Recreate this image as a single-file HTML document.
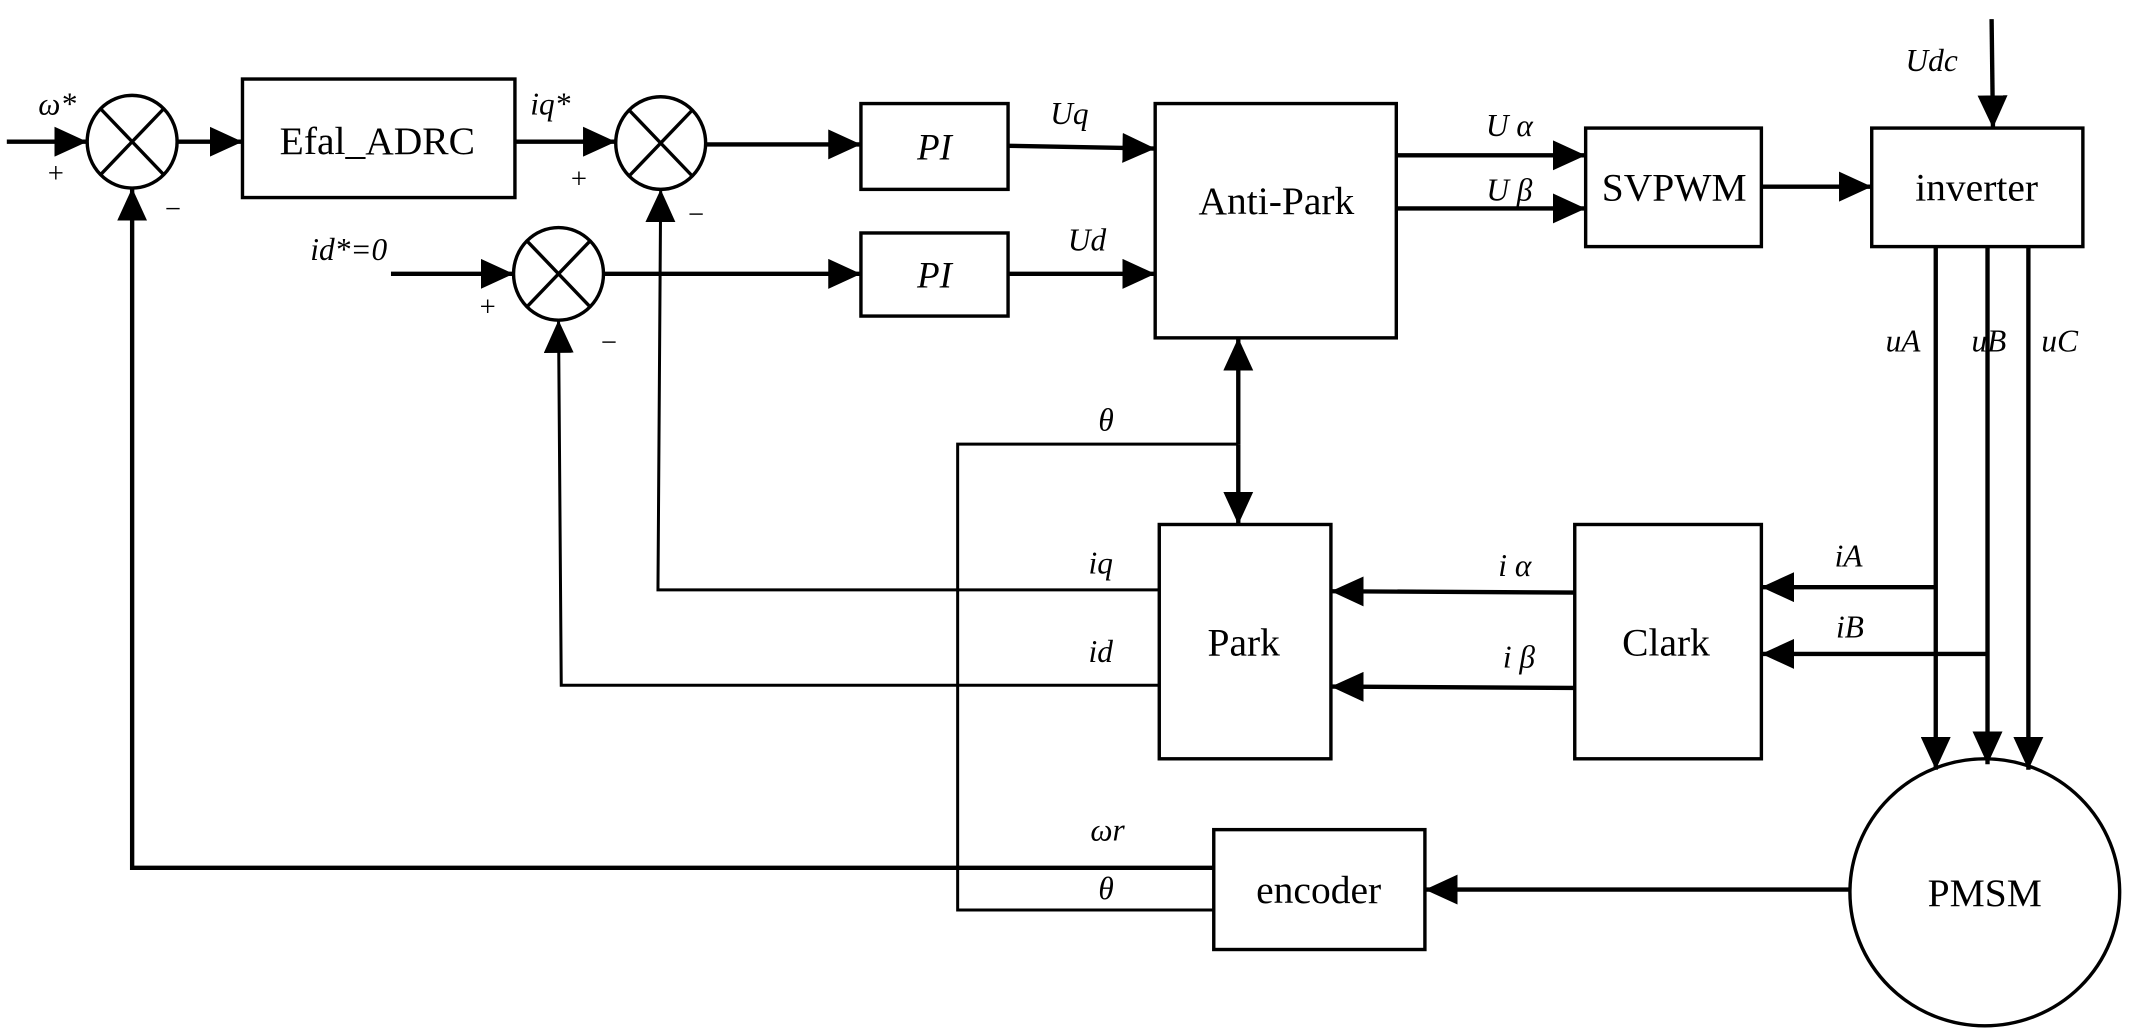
<!DOCTYPE html>
<html><head><meta charset="utf-8"><style>
html,body{margin:0;padding:0;background:#fff;}
svg{display:block;}
text{font-family:"Liberation Serif",serif;fill:#000;}
.b{font-size:29px;text-anchor:middle;}
.l{font-size:23px;font-style:italic;text-anchor:middle;}
.s{font-size:21px;text-anchor:middle;}
</style></head><body>
<svg width="2136" height="1034" viewBox="0 0 1568 759" xmlns="http://www.w3.org/2000/svg">
<defs>
<marker id="a" markerUnits="userSpaceOnUse" markerWidth="26" markerHeight="22" refX="24" refY="11" orient="auto">
<polygon points="0,0 24,11 0,22" fill="#000"/></marker>
</defs>
<g fill="none" stroke="#000">
<g stroke-width="2.5">
<rect x="178" y="58" width="200" height="87"/>
<rect x="632" y="76" width="108" height="63"/>
<rect x="632" y="171" width="108" height="61"/>
<rect x="848" y="76" width="177" height="172"/>
<rect x="1164" y="94" width="129" height="87"/>
<rect x="1374" y="94" width="155" height="87"/>
<rect x="851" y="385" width="126" height="172"/>
<rect x="1156" y="385" width="137" height="172"/>
<rect x="891" y="609" width="155" height="88"/>
<ellipse cx="1457" cy="655" rx="99" ry="98"/>
</g>
<g stroke-width="2.5">
<ellipse cx="97" cy="104" rx="33" ry="34"/>
<line x1="74" y1="80" x2="120" y2="128"/><line x1="120" y1="80" x2="74" y2="128"/>
<ellipse cx="485" cy="105" rx="33" ry="34"/>
<line x1="462" y1="81" x2="508" y2="129"/><line x1="508" y1="81" x2="462" y2="129"/>
<ellipse cx="410" cy="201" rx="33" ry="34"/>
<line x1="387" y1="177" x2="433" y2="225"/><line x1="433" y1="177" x2="387" y2="225"/>
</g>
<g stroke-width="3.2">
<line x1="5" y1="104" x2="64" y2="104" marker-end="url(#a)"/>
<line x1="130" y1="104" x2="178" y2="104" marker-end="url(#a)"/>
<line x1="378" y1="104" x2="452" y2="104" marker-end="url(#a)"/>
<line x1="518" y1="106" x2="632" y2="106" marker-end="url(#a)"/>
<line x1="287" y1="201" x2="377" y2="201" marker-end="url(#a)"/>
<line x1="443" y1="201" x2="632" y2="201" marker-end="url(#a)"/>
<line x1="740" y1="107" x2="848" y2="109" marker-end="url(#a)"/>
<line x1="740" y1="201" x2="848" y2="201" marker-end="url(#a)"/>
<line x1="1025" y1="114" x2="1164" y2="114" marker-end="url(#a)"/>
<line x1="1025" y1="153" x2="1164" y2="153" marker-end="url(#a)"/>
<line x1="1293" y1="137" x2="1374" y2="137" marker-end="url(#a)"/>
<line x1="1462" y1="14" x2="1463" y2="94" marker-end="url(#a)"/>
<line x1="1421" y1="181" x2="1421" y2="565" marker-end="url(#a)"/>
<line x1="1459" y1="181" x2="1459" y2="561" marker-end="url(#a)"/>
<line x1="1489" y1="181" x2="1489" y2="565" marker-end="url(#a)"/>
<line x1="1421" y1="431" x2="1293" y2="431" marker-end="url(#a)"/>
<line x1="1459" y1="480" x2="1293" y2="480" marker-end="url(#a)"/>
<line x1="1156" y1="435" x2="977" y2="434" marker-end="url(#a)"/>
<line x1="1156" y1="505" x2="977" y2="504" marker-end="url(#a)"/>
<line x1="909" y1="326" x2="909" y2="248" marker-end="url(#a)"/>
<line x1="909" y1="326" x2="909" y2="385" marker-end="url(#a)"/>
<line x1="1357" y1="653" x2="1046" y2="653" marker-end="url(#a)"/>
<polyline points="891,637 97,637 97,138" marker-end="url(#a)"/>
</g>
<g stroke-width="2.2">
<polyline points="851,433 483,433 485,139" marker-end="url(#a)"/>
<polyline points="851,503 412,503 410,235" marker-end="url(#a)"/>
<polyline points="909,326 703,326 703,668 891,668"/>
</g>
</g>
<text class="b" x="277" y="113">Efal_ADRC</text>
<text class="l" x="686" y="117" style="font-size:27px">PI</text>
<text class="l" x="686" y="211" style="font-size:27px">PI</text>
<text class="b" x="937" y="157">Anti-Park</text>
<text class="b" x="1229" y="147">SVPWM</text>
<text class="b" x="1451" y="147">inverter</text>
<text class="b" x="913" y="481">Park</text>
<text class="b" x="1223" y="481">Clark</text>
<text class="b" x="968" y="663">encoder</text>
<text class="b" x="1457" y="665">PMSM</text>

<text class="l" x="42" y="84">ω*</text>
<text class="s" x="41" y="134">+</text>
<text class="s" x="127" y="160">−</text>
<text class="l" x="404" y="84">iq*</text>
<text class="s" x="425" y="138">+</text>
<text class="s" x="511" y="164">−</text>
<text class="l" x="256" y="191">id*=0</text>
<text class="s" x="358" y="232">+</text>
<text class="s" x="447" y="258">−</text>
<text class="l" x="785" y="91">Uq</text>
<text class="l" x="798" y="184">Ud</text>
<text class="l" x="1108" y="100">U α</text>
<text class="l" x="1108" y="147">U β</text>
<text class="l" x="1418" y="52">Udc</text>
<text class="l" x="1397" y="258">uA</text>
<text class="l" x="1460" y="258">uB</text>
<text class="l" x="1512" y="258">uC</text>
<text class="l" x="1357" y="416">iA</text>
<text class="l" x="1358" y="468">iB</text>
<text class="l" x="1112" y="423">i α</text>
<text class="l" x="1115" y="490">i β</text>
<text class="l" x="808" y="421">iq</text>
<text class="l" x="808" y="486">id</text>
<text class="l" x="812" y="316">θ</text>
<text class="l" x="812" y="660">θ</text>
<text class="l" x="813" y="617">ωr</text>
</svg>
</body></html>
